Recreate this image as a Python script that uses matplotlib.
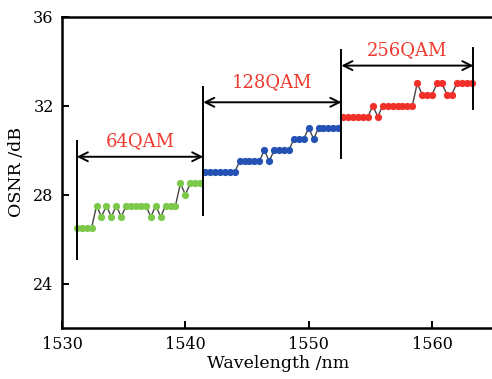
import matplotlib
matplotlib.use('Agg')
import matplotlib.pyplot as plt

plt.rcParams['font.family'] = 'DejaVu Serif'

# channel wavelengths (nm) and measured OSNR thresholds (dB)
green_wl = [1531.2, 1531.6, 1532.0, 1532.4, 1532.8, 1533.2, 1533.6, 1534.0, 1534.4,
            1534.8, 1535.2, 1535.6, 1536.0, 1536.4, 1536.8, 1537.2, 1537.6, 1538.0,
            1538.4, 1538.8, 1539.2, 1539.6, 1540.0, 1540.4, 1540.8, 1541.2]
green_osnr = [26.5, 26.5, 26.5, 26.5, 27.5, 27.0, 27.5, 27.0, 27.5,
              27.0, 27.5, 27.5, 27.5, 27.5, 27.5, 27.0, 27.5, 27.0,
              27.5, 27.5, 27.5, 28.5, 28.0, 28.5, 28.5, 28.5]

blue_wl = [1541.6, 1542.0, 1542.4, 1542.8, 1543.2, 1543.6, 1544.0, 1544.4, 1544.8,
           1545.2, 1545.6, 1546.0, 1546.4, 1546.8, 1547.2, 1547.6, 1548.0, 1548.4,
           1548.8, 1549.2, 1549.6, 1550.0, 1550.4, 1550.8, 1551.2, 1551.6, 1552.0,
           1552.4]
blue_osnr = [29.0, 29.0, 29.0, 29.0, 29.0, 29.0, 29.0, 29.5, 29.5,
             29.5, 29.5, 29.5, 30.0, 29.5, 30.0, 30.0, 30.0, 30.0,
             30.5, 30.5, 30.5, 31.0, 30.5, 31.0, 31.0, 31.0, 31.0,
             31.0]

red_wl = [1552.8, 1553.2, 1553.6, 1554.0, 1554.4, 1554.8, 1555.2, 1555.6, 1556.0,
          1556.4, 1556.8, 1557.2, 1557.6, 1558.0, 1558.4, 1558.8, 1559.2, 1559.6,
          1560.0, 1560.4, 1560.8, 1561.2, 1561.6, 1562.0, 1562.4, 1562.8, 1563.2]
red_osnr = [31.5, 31.5, 31.5, 31.5, 31.5, 31.5, 32.0, 31.5, 32.0,
            32.0, 32.0, 32.0, 32.0, 32.0, 32.0, 33.0, 32.5, 32.5,
            32.5, 33.0, 33.0, 32.5, 32.5, 33.0, 33.0, 33.0, 33.0]

# modulation format bands
band_names = ['64QAM', '128QAM', '256QAM']
band_edges = [1531.2, 1541.45, 1552.65, 1563.35]
edge_lo = [25.1, 27.1, 29.65, 31.85]
edge_hi = [30.4, 32.85, 34.5, 34.6]
arrow_y = [29.7, 32.15, 33.8]
label_y = [30.4, 33.05, 34.5]

fig = plt.figure(figsize=(4.92, 3.79), dpi=100)
ax = fig.add_axes([0.126, 0.1346, 0.8775, 0.8214])

for wl, osnr, c in [(green_wl, green_osnr, '#7cc84a'),
                    (blue_wl, blue_osnr, '#2352b4'),
                    (red_wl, red_osnr, '#f2302a')]:
    ax.plot(wl, osnr, '-', color='#444444', lw=1.0, zorder=2)
    ax.plot(wl, osnr, 'o', color=c, ms=5.2, mec='none', zorder=3)

for x, lo, hi in zip(band_edges, edge_lo, edge_hi):
    ax.plot([x, x], [lo, hi], color='k', lw=1.4, zorder=4)

for i, name in enumerate(band_names):
    ax.annotate('', xy=(band_edges[i], arrow_y[i]), xytext=(band_edges[i + 1], arrow_y[i]),
                arrowprops=dict(arrowstyle='<->', color='k', lw=1.4, mutation_scale=16,
                                shrinkA=0, shrinkB=0), zorder=4)
    ax.text((band_edges[i] + band_edges[i + 1]) / 2, label_y[i], name, color='#ec3b2e',
            ha='center', va='center', fontsize=13)

ax.set_xlim(1530, 1565)
ax.set_ylim(22, 36)
ax.set_xticks([1530, 1540, 1550, 1560])
ax.set_yticks([24, 28, 32, 36])
ax.tick_params(direction='in', length=5, width=1.4, labelsize=11.5)
ax.tick_params(axis='x', pad=6)
ax.tick_params(axis='y', pad=6)
for s in ax.spines.values():
    s.set_linewidth(1.8)
# the reference is cropped just before the right frame edge
ax.spines['right'].set_visible(False)

ax.set_xlabel('Wavelength /nm', fontsize=12.5, labelpad=1)
ax.set_ylabel('OSNR /dB', fontsize=12.5, labelpad=6)

fig.savefig('out.png', dpi=100)
